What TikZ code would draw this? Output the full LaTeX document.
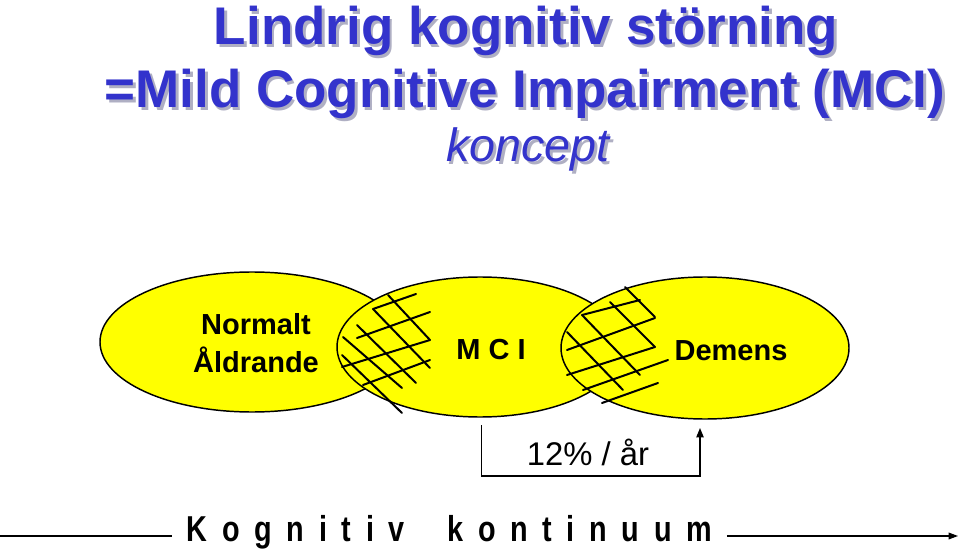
\documentclass[tikz,border=0pt]{standalone}
\usepackage{fontspec}
\setmainfont{Liberation Sans}
\usetikzlibrary{shapes.geometric,arrows.meta}
\definecolor{titleblue}{RGB}{51, 51, 204}
\definecolor{shadowgray}{RGB}{175, 175, 195}
\definecolor{ovalyellow}{RGB}{255, 255, 0}
\newcommand{\shadowed}[1]{\makebox[0pt][l]{\hspace{2pt}\raisebox{-2pt}{\color{shadowgray}#1}}#1}

\begin{document}
\begin{tikzpicture}[x=0.75pt, y=-0.75pt,
    oval/.style={ellipse, draw=black, line width=1.1pt, fill=ovalyellow,
      inner sep=0pt, minimum height=105pt},
    hatch/.style={line width=1.5pt, line cap=round},
    ovaltext/.style={font=\fontsize{21.75}{28.3}\selectfont\bfseries, align=center},
    titletext/.style={font=\fontsize{39.75}{48}\selectfont\bfseries, anchor=base, titleblue}]
    \useasboundingbox (0,0) rectangle (960,552);

    %% title with shadow
    \node[titletext] (t1) at (526,45) {\shadowed{Lindrig kognitiv störning}};
    \node[titletext] (t2) at (525,108) {\shadowed{=Mild Cognitive Impairment (MCI)}};
    \node[anchor=base, titleblue, font=\fontsize{35}{42}\selectfont\itshape] (t3) at (528,162) {\shadowed{koncept}};

    %% the three ovals
    \node[oval, minimum width=228pt] (normal) at (252,342) {};
    \node[oval, minimum width=214.5pt] (mci) at (480,347) {};
    \foreach \xa/\ya/\xb/\yb in {373/309/416/294, 357/338/430/312, 342/367/430/340, 363/385/430/360,
        388/295/430/340, 373/309/430/368, 357/325/416/383, 343/337/402/388, 342/355/402/413}
      \draw[hatch] (\xa,\ya) -- (\xb,\yb);
    \node[oval, minimum width=216pt, minimum height=106.5pt] (dem) at (705,348) {};
    \foreach \xa/\ya/\xb/\yb in {582/315/640/300, 567/350/655/318, 567/375/655/347, 583/390/668/360, 602/403/658/383,
        625/287/655/317, 610/302/655/347, 582/315/640/375, 567/332/623/390}
      \draw[hatch] (\xa,\ya) -- (\xb,\yb);

    \node[ovaltext] (normaltxt) at (256,343) {Normalt\\Åldrande};
    \node[ovaltext, anchor=base] (mcitxt) at (491,359) {M C I};
    \node[ovaltext, anchor=base] (demtxt) at (731,360) {Demens};

    %% conversion rate
    \coordinate (brl) at (481.5,425);
    \coordinate (brr) at (700,428);
    \draw[line width=0.9pt, -{Triangle[length=7pt, width=5.5pt]}] (brl) -- ++(0,51) -| (brr);
    \node[anchor=base, font=\fontsize{24.6}{30}\selectfont] (rate) at (588,465) {12\% / år};

    %% continuum
    \node[anchor=base, inner xsep=11pt, inner ysep=0pt, font=\fontsize{27}{32}\selectfont\bfseries] (kont) at (449.5,541.5)
      {\spaceskip=13.75pt\scalebox{0.8}[1]{K o g n i t i v\hspace{40pt}k o n t i n u u m}};
    \coordinate (lineL) at (0,536);
    \coordinate (lineR) at (958,536);
    \draw[line width=0.9pt] (lineL) -- (kont.west |- lineL);
    \draw[line width=0.9pt, -{Triangle[length=7pt, width=5pt]}] (kont.east |- lineL) -- (lineR);
\end{tikzpicture}
\end{document}
